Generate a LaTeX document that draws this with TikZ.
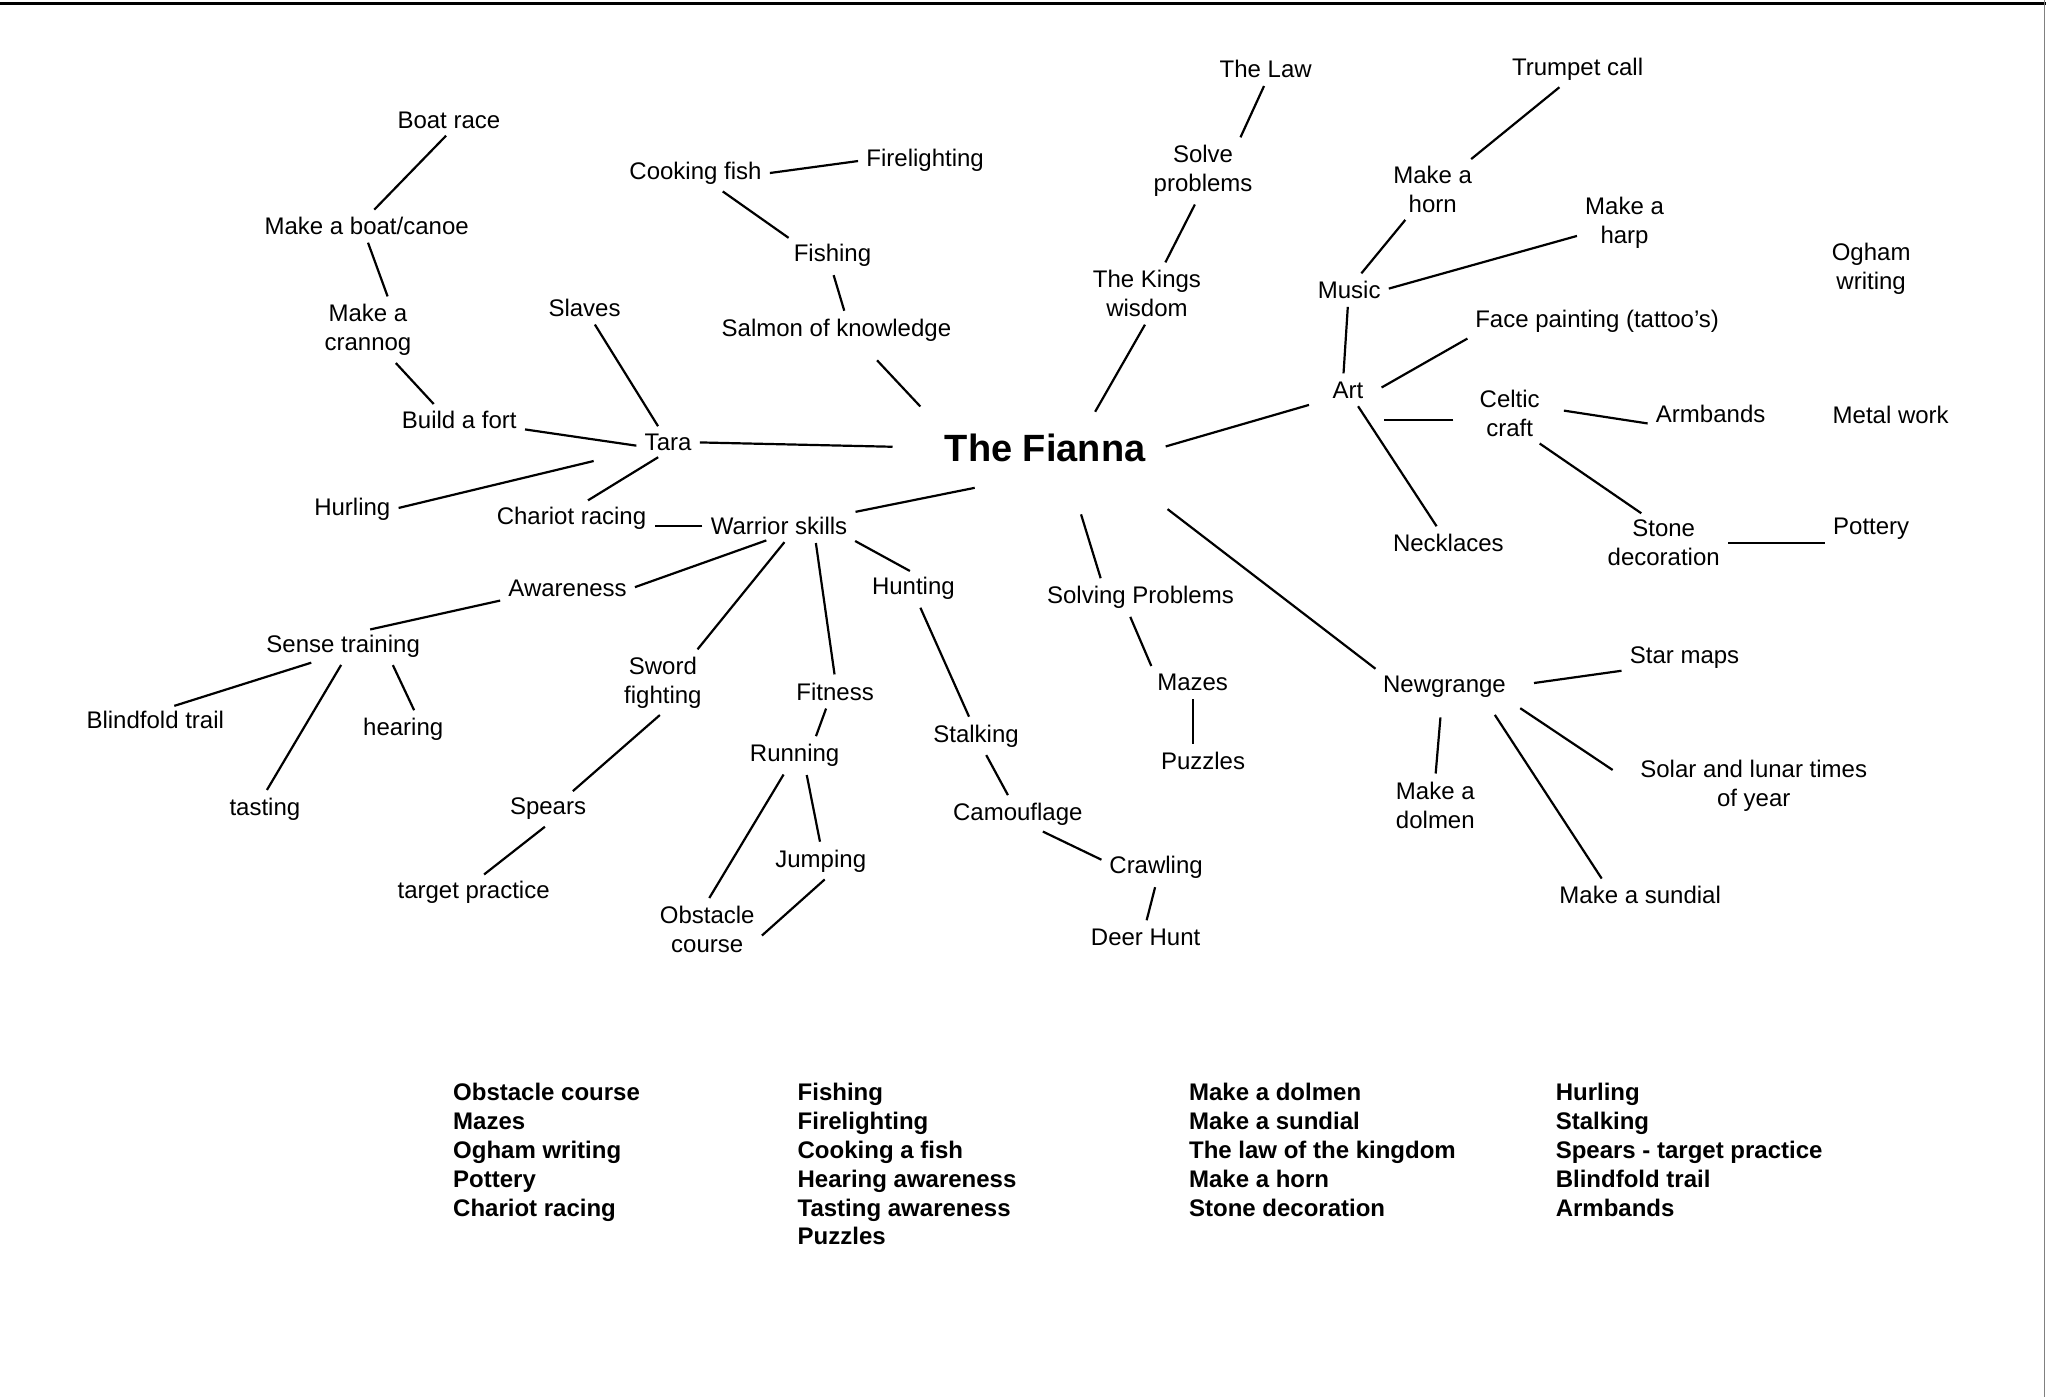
\documentclass[tikz,border=0pt]{standalone}
\usepackage{fontspec}
\setmainfont{Liberation Sans}
\usepackage{tikz}

\tikzset{
	idea/.style = {font = \fontsize{12}{14.4}\selectfont, align = center, inner sep = 2pt},
	hub/.style = {font = \bfseries\fontsize{19}{22}\selectfont, inner xsep = 8pt, inner ysep = 9pt},
	link/.style = {line width = 1.1pt, shorten <= 2pt, shorten >= 2pt},
	listcol/.style = {font = \bfseries\fontsize{12}{14.4}\selectfont, align = left, inner sep = 0pt, anchor = north west}
}

\begin{document}
\begin{tikzpicture}[x = 0.6524pt, y = -0.6524pt]
	\useasboundingbox (0, 0) rectangle (1568, 1070.7);
	\draw[line width = 1.2pt] (0, 2.7) -- (1568, 2.7);
	\draw[gray, line width = 0.6pt] (1566.8, 0) -- (1566.8, 1070.7);

	% centre
	\node[hub] (fianna) at (801, 343) {The Fianna};

	% Tara side
	\node[idea] (tara) at (512, 339) {Tara};
	\node[idea] (slaves) at (448, 236) {Slaves};
	\node[idea] (fort) at (352, 322) {Build a fort};
	\node[idea] (crannog) at (282, 253) {Make a\\crannog};
	\node[idea] (boat) at (281, 173) {Make a boat/canoe};
	\node[idea] (boatrace) at (344, 92) {Boat race};
	\node[idea] (hurling) at (270, 390) {Hurling};
	\node[idea] (chariot) at (438, 397) {Chariot racing};

	% warrior skills
	\node[idea] (warrior) at (597, 403) {Warrior skills};
	\node[idea] (awareness) at (435, 451) {Awareness};
	\node[idea] (sense) at (263, 495) {Sense training};
	\node[idea] (blindfold) at (119, 552) {Blindfold trail};
	\node[idea] (hearing) at (309, 559) {hearing};
	\node[idea] (tasting) at (203, 620) {tasting};
	\node[idea] (sword) at (508, 523) {Sword\\fighting};
	\node[idea] (spears) at (420, 620) {Spears};
	\node[idea] (target) at (363, 684) {target practice};
	\node[idea] (fitness) at (640, 530) {Fitness};
	\node[idea] (running) at (609, 579) {Running};
	\node[idea] (jumping) at (629, 660) {Jumping};
	\node[idea] (obstacle) at (542, 712) {Obstacle\\course};
	\node[idea] (hunting) at (700, 451) {Hunting};
	\node[idea] (stalking) at (748, 564) {Stalking};
	\node[idea] (camouflage) at (780, 624) {Camouflage};
	\node[idea] (crawling) at (886, 665) {Crawling};
	\node[idea] (deerhunt) at (878, 718) {Deer Hunt};

	% fishing and the king
	\node[idea] (salmon) at (641, 253) {Salmon of knowledge};
	\node[idea] (fishing) at (638, 196) {Fishing};
	\node[idea] (cooking) at (533, 133) {Cooking fish};
	\node[idea] (firelight) at (709, 123) {Firelighting};
	\node[idea] (kings) at (879, 225) {The Kings\\wisdom};
	\node[idea] (solve) at (922, 131) {Solve\\problems};
	\node[idea] (law) at (970, 53) {The Law};

	% problems and Newgrange
	\node[idea] (solving) at (874, 458) {Solving Problems};
	\node[idea] (mazes) at (914, 523) {Mazes};
	\node[idea] (puzzles) at (922, 583) {Puzzles};
	\node[idea] (newgrange) at (1107, 526) {Newgrange};
	\node[idea] (dolmen) at (1100, 617) {Make a\\dolmen};
	\node[idea] (sundial) at (1257, 686) {Make a sundial};
	\node[idea] (solar) at (1344, 602) {Solar and lunar times\\of year};
	\node[idea] (starmaps) at (1291, 504) {Star maps};

	% art
	\node[idea] (art) at (1033, 299) {Art};
	\node[idea] (music) at (1034, 222) {Music};
	\node[idea] (horn) at (1098, 145) {Make a\\horn};
	\node[idea] (trumpet) at (1209, 53) {Trumpet call};
	\node[idea] (harp) at (1245, 171) {Make a\\harp};
	\node[idea] (face) at (1224, 246) {Face painting (tattoo’s)};
	\node[idea] (celtic) at (1157, 317) {Celtic\\craft};
	\node[idea] (armbands) at (1311, 317) {Armbands};
	\node[idea] (stone) at (1275, 416) {Stone\\decoration};
	\node[idea] (pottery) at (1434, 405) {Pottery};
	\node[idea] (necklaces) at (1110, 416) {Necklaces};
	\node[idea] (ogham) at (1434, 206) {Ogham\\writing};
	\node[idea] (metalwork) at (1449, 318) {Metal work};

	% links
	\draw[link] (boatrace.south) -- (boat.70);
	\draw[link] (boat.south) -- (crannog.55);
	\draw[link] (crannog.-50) -- (fort.150);
	\draw[link] (slaves) -- (tara);
	\draw[link] (fort.-8) -- (tara.188);
	\draw[link, shorten <= 24pt] (tara.195) -- (hurling.east);
	\draw[link] (tara.-117) -- (chariot.50);
	\draw[link] (warrior.west) -- (warrior.west -| chariot.east);

	\draw[link, shorten <= 18pt] (fianna.west) -- (tara.east);
	\draw[link, shorten <= 6pt, shorten >= 10pt] (fianna.north west) -- (salmon.-30);
	\draw[link] (fianna.34) -- (kings.south);
	\draw[link, shorten >= 10pt] (fianna.east) -- (art.205);
	\draw[link, shorten <= 18pt] (fianna.-52) -- (solving.158);
	\draw[link, shorten <= 24pt] (fianna.-21) -- (newgrange.north west);
	\draw[link, shorten <= 20pt] (fianna.226) -- (warrior.north east);

	\draw[link] (cooking.east) -- (firelight.west);
	\draw[link] (cooking.-33) -- (fishing.159);
	\draw[link] (fishing.south) -- (salmon.60);
	\draw[link] (kings.59) -- (solve.-102);
	\draw[link] (solve.40) -- (law.south);

	\draw[link] (warrior.south east) -- (hunting.north);
	\draw[link] (warrior.-124) -- (awareness.east);
	\draw[link] (warrior.-59) -- (sword.43);
	\draw[link] (warrior.-20) -- (fitness.north);
	\draw[link] (awareness.190) -- (sense.34);
	\draw[link] (sense.209) -- (blindfold.41);
	\draw[link] (sense.south) -- (tasting.north);
	\draw[link] (sense.-18) -- (hearing.51);
	\draw[link] (sword.south) -- (spears.35);
	\draw[link] (spears.south) -- (target.65);
	\draw[link] (fitness.-120) -- (running.38);
	\draw[link] (running.-54) -- (jumping.north);
	\draw[link] (running.-120) -- (obstacle.north);
	\draw[link] (jumping.-66) -- (obstacle.-10);
	\draw[link] (hunting.-71) -- (stalking.109);
	\draw[link] (stalking.-62) -- (camouflage.117);
	\draw[link] (camouflage.-36) -- (crawling.173);
	\draw[link] (crawling.south) -- (deerhunt.north);

	\draw[link] (solving.-127) -- (mazes.north west);
	\draw[link] (mazes.south) -- (mazes.south |- puzzles.north);
	\draw[link, shorten <= 12pt] (newgrange.east) -- (starmaps.192);
	\draw[link, shorten <= 8pt] (newgrange.-100) -- (dolmen.north);
	\draw[link, shorten <= 8pt] (newgrange.-20) -- (sundial.160);
	\draw[link, shorten <= 6pt, shorten >= 14pt] (newgrange.south east) -- (solar.west);

	\draw[link] (art.110) -- (music.-95);
	\draw[link] (music.54) -- (horn.-132);
	\draw[link] (horn.38) -- (trumpet.-134);
	\draw[link] (music.east) -- (harp.195);
	\draw[link, shorten <= 8pt] (art.-15) -- (face.south west);
	\draw[link, shorten <= 11pt, shorten >= 8pt] (celtic.-170) -- (celtic.-170 -| art.east);
	\draw[link] (art.-58) -- (necklaces.126);
	\draw[link, shorten <= 10pt] (celtic.10) -- (armbands.-170);
	\draw[link] (celtic.-46) -- (stone.125);
	\draw[link] (stone.east) -- (stone.east -| pottery.west);

	% activity list
	\node[listcol] (list1) at (347, 830) {Obstacle course\\Mazes\\Ogham writing\\Pottery\\Chariot racing};
	\node[listcol] (list2) at (611, 830) {Fishing\\Firelighting\\Cooking a fish\\Hearing awareness\\Tasting awareness\\Puzzles};
	\node[listcol] (list3) at (911, 830) {Make a dolmen\\Make a sundial\\The law of the kingdom\\Make a horn\\Stone decoration};
	\node[listcol] (list4) at (1192, 830) {Hurling\\Stalking\\Spears - target practice\\Blindfold trail\\Armbands};
\end{tikzpicture}
\end{document}
